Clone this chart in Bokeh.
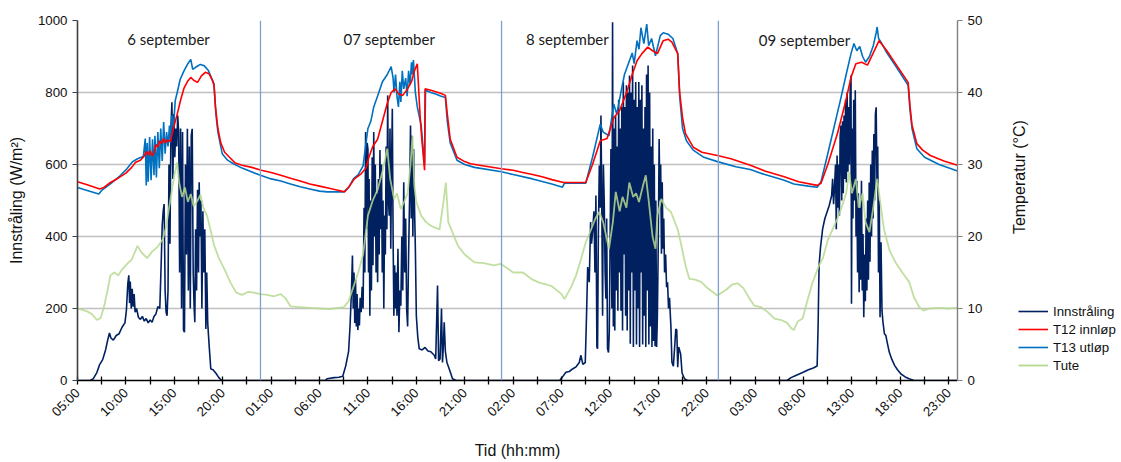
import math
from bokeh.plotting import figure
from bokeh.layouts import row
from bokeh.models import Range1d, LinearAxis, FixedTicker, Span, Legend, LegendItem
from bokeh.core.properties import value
from bokeh.embed import file_html
from bokeh.resources import INLINE

# ---------------- data (hours since 6 Sep 00:00) ----------------
x_tick_hours = [5, 10, 15, 20, 25, 30, 35, 40, 45, 50, 55, 60, 65, 70, 75, 80, 85, 90, 95]
x_tick_labels = ["05:00", "10:00", "15:00", "20:00", "01:00", "06:00", "11:00", "16:00",
                 "21:00", "02:00", "07:00", "12:00", "17:00", "22:00", "03:00", "08:00",
                 "13:00", "18:00", "23:00"]
left_ticks = [0, 200, 400, 600, 800, 1000]
right_ticks = [0, 10, 20, 30, 40, 50]
day_labels = ["6 september", "07 september", "8 september", "09 september"]
day_breaks = [23.9, 48.8, 71.2]
series_names = ["Innstråling", "T12 innløp", "T13 utløp", "Tute"]

# Innstråling (W/m2)
irr_points = [
    (5.0, 0), (6.3, 0), (6.6, 4), (7.0, 22), (7.3, 45), (7.6, 58), (7.9, 85), (8.1, 110), (8.3, 132),
    (8.45, 118), (8.7, 112), (9.0, 125), (9.3, 130), (9.6, 148), (9.9, 160), (10.05, 195), (10.2, 270),
    (10.3, 292), (10.38, 215), (10.45, 275), (10.55, 200), (10.65, 255), (10.75, 205), (10.85, 240),
    (10.95, 190), (11.1, 200), (11.3, 175), (11.5, 170), (11.7, 178), (11.9, 165), (12.1, 172),
    (12.3, 160), (12.5, 168), (12.7, 162), (12.9, 178), (13.1, 185), (13.3, 205), (13.5, 200),
    (13.65, 330), (13.75, 430), (13.85, 470), (13.95, 490), (14.05, 250), (14.15, 190), (14.25, 180),
    (14.35, 250), (14.45, 600), (14.55, 380), (14.65, 700), (14.75, 773), (14.85, 560), (14.95, 740),
    (15.05, 620), (15.15, 700), (15.25, 650), (15.35, 736), (15.45, 690), (15.55, 300), (15.65, 700),
    (15.75, 200), (15.85, 690), (15.95, 140), (16.05, 134), (16.15, 600), (16.25, 350), (16.35, 699),
    (16.45, 250), (16.55, 650), (16.65, 200), (16.75, 680), (16.85, 699), (16.95, 300), (17.05, 200),
    (17.12, 162), (17.2, 420), (17.3, 250), (17.4, 530), (17.5, 300), (17.57, 551), (17.65, 400),
    (17.75, 500), (17.85, 200), (17.95, 470), (18.05, 300), (18.15, 420), (18.26, 143), (18.35, 300),
    (18.45, 160), (18.6, 97), (18.77, 32), (19.0, 30), (19.3, 20), (19.6, 8), (19.9, 0),
    (30.6, 0), (30.8, 5), (31.5, 8), (32.0, 9), (32.4, 12), (32.7, 40), (33.0, 80), (33.15, 150),
    (33.3, 250), (33.4, 347), (33.48, 200), (33.56, 300), (33.64, 160), (33.72, 280), (33.8, 150),
    (33.88, 240), (33.96, 140), (34.04, 200), (34.12, 153), (34.2, 230), (34.3, 190), (34.4, 260),
    (34.5, 200), (34.6, 480), (34.68, 300), (34.76, 690), (34.84, 420), (34.92, 660), (35.0, 643),
    (35.06, 300), (35.12, 560), (35.2, 180), (35.28, 500), (35.36, 250), (35.44, 620), (35.52, 320),
    (35.6, 690), (35.68, 400), (35.76, 600), (35.84, 300), (35.92, 520), (36.0, 273), (36.08, 560),
    (36.16, 350), (36.24, 640), (36.32, 420), (36.4, 600), (36.48, 300), (36.56, 500), (36.64, 200),
    (36.72, 458), (36.8, 350), (36.88, 650), (36.96, 420), (37.04, 792), (37.12, 500), (37.2, 458),
    (37.28, 700), (37.36, 366), (37.44, 600), (37.52, 755), (37.6, 400), (37.68, 180), (37.76, 320),
    (37.84, 200), (37.92, 300), (38.0, 180), (38.1, 366), (38.2, 134), (38.3, 250), (38.4, 208),
    (38.5, 400), (38.6, 250), (38.7, 551), (38.8, 300), (38.9, 450), (39.0, 200), (39.1, 150),
    (39.2, 350), (39.3, 500), (39.4, 708), (39.48, 450), (39.56, 680), (39.64, 400), (39.72, 643),
    (39.8, 500), (39.9, 366), (40.0, 180), (40.15, 120), (40.3, 88), (40.6, 85), (40.9, 92),
    (41.2, 82), (41.5, 80), (41.85, 70), (42.0, 60), (42.19, 264), (42.3, 55), (42.45, 60),
    (42.6, 200), (42.7, 50), (42.8, 100), (42.88, 162), (43.0, 80), (43.16, 50), (43.4, 32),
    (43.74, 5), (44.1, 0),
    (54.8, 0), (55.1, 10), (55.45, 23), (55.8, 25), (56.14, 32), (56.5, 38), (56.83, 50), (57.0, 70),
    (57.2, 45), (57.45, 50), (57.58, 180), (57.7, 315), (57.86, 273), (58.0, 440), (58.1, 380),
    (58.2, 412), (58.35, 470), (58.45, 300), (58.55, 514), (58.65, 93), (58.72, 88), (58.8, 400),
    (58.9, 597), (59.0, 480), (59.07, 736), (59.15, 520), (59.24, 180), (59.32, 600), (59.41, 497),
    (59.5, 300), (59.58, 227), (59.66, 450), (59.75, 88), (59.85, 78), (59.93, 134), (60.02, 400),
    (60.1, 643), (60.2, 200), (60.27, 995), (60.35, 150), (60.43, 700), (60.5, 139), (60.58, 736),
    (60.66, 250), (60.74, 650), (60.82, 194), (60.9, 780), (60.98, 300), (61.06, 700), (61.14, 194),
    (61.22, 760), (61.3, 139), (61.38, 829), (61.46, 350), (61.54, 760), (61.62, 180), (61.7, 820),
    (61.78, 139), (61.86, 800), (61.94, 250), (62.02, 847), (62.1, 102), (62.18, 800), (62.26, 300),
    (62.34, 875), (62.42, 93), (62.5, 780), (62.58, 250), (62.66, 829), (62.74, 100), (62.82, 760),
    (62.9, 200), (62.98, 829), (63.06, 93), (63.14, 780), (63.22, 300), (63.3, 820), (63.38, 100),
    (63.46, 700), (63.54, 180), (63.62, 760), (63.7, 93), (63.78, 850), (63.86, 250), (63.94, 875),
    (64.02, 100), (64.1, 800), (64.18, 150), (64.26, 650), (64.34, 93), (64.42, 700), (64.5, 110),
    (64.58, 600), (64.66, 95), (64.74, 500), (64.82, 93), (64.9, 180), (65.0, 400), (65.08, 671),
    (65.16, 500), (65.24, 600), (65.32, 352), (65.4, 551), (65.48, 366), (65.56, 450), (65.64, 300),
    (65.75, 350), (65.85, 259), (65.95, 273), (66.05, 200), (66.15, 230), (66.3, 148), (66.4, 51),
    (66.55, 40), (66.7, 100), (66.8, 143), (66.9, 140), (67.0, 37), (67.1, 93), (67.3, 74),
    (67.45, 21), (67.7, 5), (68.0, 0),
    (78.3, 0), (78.7, 8), (79.2, 14), (79.9, 22), (80.5, 30), (81.0, 35), (81.4, 40), (81.5, 150),
    (81.6, 320), (81.75, 370), (81.97, 421), (82.2, 450), (82.45, 470), (82.65, 486), (82.9, 514),
    (83.0, 560), (83.1, 490), (83.2, 540), (83.3, 600), (83.38, 420), (83.46, 625), (83.54, 480),
    (83.62, 600), (83.7, 458), (83.78, 680), (83.86, 708), (83.94, 500), (84.02, 720), (84.1, 520),
    (84.18, 736), (84.26, 560), (84.34, 780), (84.42, 550), (84.5, 800), (84.58, 580), (84.66, 760),
    (84.74, 600), (84.82, 820), (84.9, 847), (84.95, 213), (85.02, 700), (85.1, 450), (85.18, 780),
    (85.26, 500), (85.34, 806), (85.42, 400), (85.5, 555), (85.58, 300), (85.66, 520), (85.74, 245),
    (85.82, 480), (85.9, 280), (85.98, 555), (86.06, 250), (86.14, 407), (86.22, 176), (86.3, 350),
    (86.38, 220), (86.46, 450), (86.54, 250), (86.62, 500), (86.7, 280), (86.78, 550), (86.86, 330),
    (86.94, 600), (87.02, 400), (87.1, 639), (87.18, 450), (87.26, 685), (87.34, 500), (87.42, 740),
    (87.5, 759), (87.58, 550), (87.66, 650), (87.74, 300), (87.82, 500), (87.9, 176), (88.0, 384),
    (88.1, 194), (88.2, 162), (88.35, 130), (88.5, 125), (88.6, 111), (88.85, 79), (89.1, 60),
    (89.4, 42), (89.7, 30), (90.06, 18), (90.5, 10), (90.9, 5), (91.4, 0), (95.9, 0),
]

# T12 innløp (deg C)
t12_points = [
    (5.0, 27.6), (6.0, 27.2), (7.3, 26.6), (7.7, 26.8), (8.4, 27.5), (9.2, 28.1), (10.0, 28.8),
    (10.6, 29.6), (11.0, 30.3), (11.5, 30.6), (11.9, 31.2), (12.1, 31.8), (12.3, 31.3), (12.5, 31.9),
    (12.7, 31.2), (12.9, 31.6), (13.1, 32.8), (13.3, 32.4), (13.5, 33.3), (13.7, 32.9), (13.9, 33.6),
    (14.1, 33.0), (14.3, 33.4), (14.6, 33.2), (14.9, 35.0), (15.3, 37.0), (15.7, 39.2), (16.0, 40.6),
    (16.4, 41.6), (16.7, 42.1), (17.0, 41.7), (17.4, 41.4), (17.8, 42.3), (18.2, 42.8), (18.6, 42.6),
    (18.9, 41.8), (19.1, 41.0), (19.25, 38.0), (19.5, 35.0), (19.8, 33.0), (20.2, 31.7), (20.7, 31.0),
    (21.3, 30.2), (22.0, 29.9), (23.0, 29.6), (24.0, 29.2), (25.0, 28.9), (26.0, 28.5), (27.0, 28.1),
    (28.0, 27.7), (29.0, 27.3), (30.0, 27.0), (31.0, 26.7), (32.0, 26.4), (32.6, 26.2), (33.1, 27.0),
    (33.6, 28.0), (34.3, 28.7), (34.8, 29.5), (35.1, 31.0), (35.5, 32.5), (36.0, 33.5), (36.5, 36.0),
    (37.0, 38.5), (37.4, 40.0), (37.8, 40.5), (38.2, 39.8), (38.6, 39.6), (39.0, 40.3), (39.5, 41.5),
    (39.8, 43.0), (40.1, 44.0), (40.4, 36.5), (40.6, 33.0), (40.85, 29.2), (40.9, 40.5), (41.5, 40.3),
    (42.0, 40.1), (42.5, 39.9), (43.0, 39.6), (43.2, 37.0), (43.5, 33.5), (44.2, 31.0), (45.0, 30.4),
    (45.6, 30.1), (47.0, 29.8), (48.8, 29.4), (50.0, 29.2), (51.0, 28.9), (52.0, 28.6), (53.0, 28.3),
    (54.0, 27.9), (55.2, 27.5), (57.5, 27.5), (58.2, 30.0), (59.0, 33.3), (59.7, 33.6), (60.4, 36.5),
    (61.0, 37.5), (61.8, 40.3), (62.3, 42.5), (62.8, 44.4), (63.3, 45.4), (63.9, 46.3), (64.4, 45.8),
    (64.9, 45.4), (65.5, 47.2), (66.0, 47.4), (66.4, 47.0), (67.0, 45.4), (67.2, 40.0), (67.5, 36.5),
    (67.8, 34.3), (68.6, 32.4), (69.5, 31.7), (71.1, 31.25), (72.5, 30.8), (74.5, 29.9), (76.0, 29.1),
    (78.0, 28.3), (79.5, 27.6), (81.4, 27.1), (81.8, 27.4), (82.5, 30.0), (83.5, 34.3), (84.3, 38.5),
    (84.9, 42.1), (85.4, 44.0), (86.0, 44.2), (86.6, 43.8), (87.2, 45.5), (87.8, 47.2), (88.6, 45.8),
    (89.6, 43.8), (90.8, 41.4), (91.0, 38.0), (91.2, 35.5), (91.7, 32.9), (92.3, 32.0), (93.1, 31.25),
    (94.5, 30.5), (95.9, 29.9),
]

# T13 utløp (deg C)
t13_points = [
    (5.0, 26.8), (6.0, 26.4), (7.2, 25.9), (7.5, 26.4), (8.4, 27.3), (9.3, 28.3), (10.1, 29.4),
    (10.7, 30.4), (11.2, 30.8), (11.8, 31.1), (12.0, 33.6), (12.1, 27.1), (12.2, 33.0), (12.3, 27.6),
    (12.45, 33.8), (12.6, 27.8), (12.75, 33.5), (12.9, 28.5), (13.0, 34.0), (13.15, 28.2), (13.3, 34.5),
    (13.45, 29.5), (13.6, 35.0), (13.75, 30.5), (13.9, 35.9), (14.05, 31.5), (14.2, 34.5), (14.35, 32.5),
    (14.5, 35.4), (14.6, 33.0), (14.75, 36.8), (14.9, 35.0), (15.1, 38.9), (15.3, 40.0), (15.6, 41.8),
    (16.0, 43.0), (16.4, 44.0), (16.7, 44.6), (16.9, 43.2), (17.2, 43.5), (17.7, 43.9), (18.1, 43.7),
    (18.5, 43.1), (19.1, 41.2), (19.3, 37.0), (19.5, 34.5), (19.95, 31.5), (20.5, 30.6), (21.1, 30.1),
    (22.0, 29.5), (23.9, 28.5), (25.0, 28.0), (26.0, 27.7), (27.0, 27.3), (28.0, 26.9), (29.0, 26.6),
    (30.0, 26.3), (30.8, 26.2), (32.5, 26.2), (33.0, 26.8), (33.5, 28.0), (34.0, 28.6), (34.5, 29.8),
    (34.8, 33.0), (35.0, 35.0), (35.3, 36.0), (35.6, 38.0), (36.0, 39.5), (36.5, 41.5), (37.0, 42.5),
    (37.4, 43.6), (37.6, 42.0), (37.7, 40.0), (37.85, 42.5), (38.0, 39.5), (38.15, 38.0), (38.3, 41.5),
    (38.4, 38.7), (38.55, 43.0), (38.7, 40.5), (38.9, 42.0), (39.05, 39.5), (39.2, 43.0), (39.35, 41.0),
    (39.5, 44.2), (39.6, 42.5), (39.7, 44.5), (39.9, 40.0), (40.1, 38.0), (40.5, 35.4), (40.85, 29.9),
    (40.95, 40.3), (41.5, 40.0), (42.0, 39.8), (42.5, 39.5), (43.0, 39.3), (43.2, 36.0), (43.5, 33.0),
    (44.2, 30.6), (45.0, 30.0), (46.0, 29.6), (48.8, 29.0), (50.0, 28.6), (52.0, 28.0), (54.0, 27.3),
    (55.1, 26.85), (55.3, 27.4), (57.5, 27.4), (58.2, 31.0), (59.0, 35.6), (59.3, 34.5), (59.9, 34.0),
    (60.4, 38.4), (60.7, 37.0), (61.2, 40.5), (61.5, 42.5), (61.9, 44.0), (62.3, 45.5), (62.5, 44.0),
    (62.8, 47.2), (63.0, 46.0), (63.2, 49.0), (63.5, 46.8), (63.8, 49.5), (64.0, 46.5), (64.3, 47.5),
    (64.7, 45.1), (65.2, 47.9), (65.5, 48.3), (66.0, 48.1), (66.5, 47.5), (67.0, 45.4), (67.2, 39.5),
    (67.5, 35.0), (67.9, 33.3), (68.6, 32.0), (69.7, 31.0), (71.1, 30.4), (73.0, 29.7), (74.5, 29.3),
    (76.0, 28.6), (78.0, 27.8), (79.0, 27.3), (80.5, 27.0), (81.4, 26.85), (81.8, 27.6), (82.5, 31.5),
    (83.8, 38.9), (84.4, 42.5), (84.9, 45.4), (85.2, 46.8), (85.5, 45.8), (85.8, 46.4), (86.1, 45.0),
    (86.4, 44.2), (86.8, 45.0), (87.2, 46.5), (87.5, 48.3), (87.6, 49.1), (87.75, 47.5), (88.0, 47.0),
    (88.6, 45.5), (89.6, 43.5), (90.8, 41.0), (91.0, 37.5), (91.2, 35.0), (91.7, 32.2), (92.5, 31.0),
    (94.0, 30.0), (95.9, 29.1),
]

# Tute (deg C)
tute_points = [
    (5.0, 10.0), (5.5, 9.8), (6.0, 9.6), (6.5, 9.2), (7.0, 8.4), (7.4, 8.7), (7.75, 10.3), (8.1, 12.5),
    (8.4, 14.6), (8.8, 15.0), (9.2, 14.6), (9.6, 15.4), (10.2, 16.3), (10.6, 16.8), (11.2, 18.7),
    (11.6, 17.8), (12.2, 17.0), (12.7, 17.9), (13.3, 18.6), (13.8, 19.6), (14.1, 21.0), (14.4, 23.5),
    (14.7, 26.0), (15.0, 28.5), (15.3, 30.3), (15.5, 27.5), (15.8, 25.5), (16.1, 26.8), (16.4, 24.8),
    (16.7, 25.9), (17.0, 24.2), (17.4, 25.0), (17.7, 25.8), (18.0, 24.0), (18.4, 22.8), (18.8, 20.6),
    (19.1, 18.8), (19.6, 17.0), (20.2, 15.4), (20.8, 13.6), (21.4, 12.2), (22.0, 11.9), (22.6, 12.3),
    (23.2, 12.2), (23.9, 12.0), (24.6, 11.9), (25.3, 11.7), (26.0, 12.0), (26.5, 11.4), (27.0, 10.3),
    (28.0, 10.2), (29.0, 10.1), (30.0, 10.0), (31.0, 9.9), (31.5, 10.0), (32.5, 10.2), (33.0, 11.0),
    (33.5, 13.0), (34.0, 15.0), (34.5, 17.5), (35.0, 22.9), (35.5, 25.0), (36.0, 26.5), (36.5, 29.0),
    (37.0, 32.2), (37.3, 28.0), (37.7, 25.2), (38.0, 26.0), (38.4, 23.8), (38.8, 25.0), (39.1, 26.0),
    (39.4, 30.0), (39.6, 34.0), (39.8, 27.0), (40.0, 24.8), (40.5, 22.9), (41.0, 22.0), (41.5, 21.5),
    (42.0, 21.2), (42.4, 21.0), (42.8, 24.8), (43.05, 27.5), (43.3, 22.0), (44.3, 18.7), (45.0, 17.5),
    (46.0, 16.4), (47.0, 16.3), (48.0, 16.0), (48.7, 16.2), (49.5, 15.5), (50.0, 15.0), (51.0, 15.0),
    (52.0, 14.0), (52.7, 13.6), (53.5, 13.3), (54.0, 13.1), (55.0, 12.0), (55.3, 11.3), (56.0, 13.0),
    (56.5, 14.6), (57.0, 16.8), (57.5, 19.2), (58.0, 20.8), (58.5, 22.5), (58.9, 23.4), (59.3, 22.0),
    (59.9, 18.3), (60.3, 22.0), (60.6, 26.2), (61.0, 23.5), (61.3, 25.5), (61.7, 24.0), (62.0, 27.5),
    (62.4, 25.5), (62.7, 26.0), (63.0, 24.8), (63.4, 27.0), (63.7, 28.5), (64.0, 25.0), (64.4, 20.0),
    (64.7, 18.3), (64.9, 22.9), (65.3, 25.2), (65.8, 24.0), (66.3, 23.4), (67.0, 21.0), (67.3, 19.2),
    (67.8, 16.0), (68.2, 14.1), (68.8, 14.0), (69.4, 13.7), (70.2, 12.7), (71.1, 11.8), (72.0, 12.6),
    (72.6, 13.3), (73.2, 13.5), (73.8, 12.8), (74.4, 11.4), (74.9, 10.4), (75.6, 10.2), (76.3, 9.5),
    (77.0, 8.6), (77.7, 8.4), (78.3, 8.0), (78.7, 7.3), (79.0, 7.0), (79.4, 8.2), (79.9, 8.6),
    (80.4, 11.1), (80.9, 13.5), (81.6, 16.0), (82.0, 17.0), (82.5, 19.5), (83.0, 21.0), (83.5, 22.5),
    (84.0, 24.3), (84.4, 26.0), (84.7, 28.9), (85.0, 26.0), (85.4, 28.0), (85.7, 24.0), (86.1, 26.0),
    (86.4, 22.0), (86.8, 20.6), (87.2, 24.0), (87.6, 28.0), (87.9, 25.0), (88.3, 21.0), (88.9, 18.0),
    (89.5, 16.4), (90.2, 15.0), (90.9, 13.7), (91.4, 11.6), (91.95, 10.2), (92.4, 9.7), (93.0, 10.0),
    (94.0, 10.1), (95.0, 10.0), (95.9, 10.1),
]

irr_h, irr_v = zip(*irr_points)
t12_h, t12_v = zip(*t12_points)
t13_h, t13_v = zip(*t13_points)
tute_h, tute_v = zip(*tute_points)

colors = ["#002060", "#ff0000", "#0070c0", "#b5d98f"]

# ---------------- main figure ----------------
FONT = "Liberation Sans"
p = figure(width=1000, height=462, x_range=Range1d(5, 95.9), y_range=Range1d(0, 1000),
           output_backend="svg", toolbar_location=None,
           min_border_left=77, min_border_right=43, min_border_top=20, min_border_bottom=82,
           background_fill_color="white", border_fill_color="white", outline_line_color=None)
p.extra_y_ranges = {"temp": Range1d(0, 50)}

p.xgrid.grid_line_color = None
p.ygrid.ticker = FixedTicker(ticks=left_ticks)
p.ygrid.grid_line_color = "#c0c0c0"
p.ygrid.grid_line_width = 1.4

# left axis
la = p.yaxis[0]
la.ticker = FixedTicker(ticks=left_ticks)
la.axis_label = "Innstråling (W/m²)"
la.axis_label_text_font = FONT
la.axis_label_text_font_size = "16px"
la.axis_label_text_font_style = "normal"
la.axis_label_text_color = "#111111"
la.axis_label_standoff = 10
la.major_label_text_font = FONT
la.major_label_text_font_size = "13.3px"
la.major_label_text_color = "#111111"
la.axis_line_color = "#404040"
la.axis_line_width = 1.6
la.major_tick_line_color = "#404040"
la.major_tick_out = 5
la.major_tick_in = 0
la.minor_tick_line_color = None

# bottom axis
xa = p.xaxis[0]
x_minor = [h + 2.5 for h in x_tick_hours[:-1]]
xa.ticker = FixedTicker(ticks=x_tick_hours, minor_ticks=x_minor)
xa.major_label_overrides = {h: lab for h, lab in zip(x_tick_hours, x_tick_labels)}
xa.major_label_orientation = math.pi / 4
xa.major_label_text_font = FONT
xa.major_label_text_font_size = "13.3px"
xa.major_label_text_color = "#111111"
xa.major_label_standoff = 6
xa.axis_label = "Tid (hh:mm)"
xa.axis_label_text_font = FONT
xa.axis_label_text_font_size = "16px"
xa.axis_label_text_font_style = "normal"
xa.axis_label_text_color = "#111111"
xa.axis_label_standoff = 14
xa.axis_line_color = "#000000"
xa.axis_line_width = 1.5
xa.major_tick_line_color = "#000000"
xa.minor_tick_line_color = "#000000"
xa.major_tick_in = 4
xa.major_tick_out = 4
xa.minor_tick_in = 4
xa.minor_tick_out = 4
xa.major_tick_line_width = 1.3
xa.minor_tick_line_width = 1.3

# right axis (ticks only; its title is drawn in the side panel)
ra = LinearAxis(y_range_name="temp", ticker=FixedTicker(ticks=right_ticks))
ra.major_label_text_font = FONT
ra.major_label_text_font_size = "13.3px"
ra.major_label_text_color = "#111111"
ra.axis_line_color = "#808080"
ra.axis_line_width = 1.4
ra.major_tick_line_color = "#808080"
ra.major_tick_out = 5
ra.major_tick_in = 0
ra.minor_tick_line_color = None
p.add_layout(ra, "right")

# day separators
for h in day_breaks:
    p.add_layout(Span(location=h, dimension="height", line_color="#7f9fd2", line_width=1.3))

# series
p.line(irr_h, irr_v, line_color=colors[0], line_width=1.6)
p.line(tute_h, tute_v, y_range_name="temp", line_color=colors[3], line_width=1.8, line_alpha=0.85)
p.line(t13_h, t13_v, y_range_name="temp", line_color=colors[2], line_width=1.6)
p.line(t12_h, t12_v, y_range_name="temp", line_color=colors[1], line_width=1.6)

# day labels
p.text(x=[14.4, 37.2, 55.6, 80.1], y=[950, 950, 950, 945], text=day_labels,
       text_font=value("Lato"), text_font_size=value("15px"), text_color="#1a1a1a",
       text_align="center", text_baseline="middle")

# ---------------- side panel: right-axis title + legend ----------------
s = figure(width=121, height=462, x_range=Range1d(1000, 1121), y_range=Range1d(462, 0),
           output_backend="svg", toolbar_location=None, x_axis_type=None, y_axis_type=None,
           min_border=0, min_border_left=0, min_border_right=0, min_border_top=0, min_border_bottom=0,
           background_fill_color="white", border_fill_color="white", outline_line_color=None)
s.xgrid.grid_line_color = None
s.ygrid.grid_line_color = None
s.text(x=[1019], y=[201], text=["Temperatur (°C)"], angle=math.pi / 2,
       text_font=value(FONT), text_font_size=value("16px"), text_color="#111111",
       text_align="center", text_baseline="middle")

# legend proxies: lines placed outside the visible range, only their style is used by the legend
legend_renderers = [
    s.line([900, 901], [0, 0], line_color=colors[0], line_width=1.6),
    s.line([900, 901], [0, 0], line_color=colors[1], line_width=1.6),
    s.line([900, 901], [0, 0], line_color=colors[2], line_width=1.6),
    s.line([900, 901], [0, 0], line_color=colors[3], line_width=1.8),
]
legend = Legend(items=[LegendItem(label=n, renderers=[r]) for n, r in zip(series_names, legend_renderers)],
                location=(18, 6), orientation="vertical",
                glyph_width=30, glyph_height=18, label_height=18, spacing=0, padding=0, margin=0,
                label_standoff=5, label_text_font=FONT, label_text_font_size="13.3px",
                label_text_color="#111111", background_fill_alpha=0, border_line_color=None)
s.add_layout(legend, "center")

layout = row(p, s, spacing=0)
open("out.html", "w").write(file_html(layout, INLINE))
